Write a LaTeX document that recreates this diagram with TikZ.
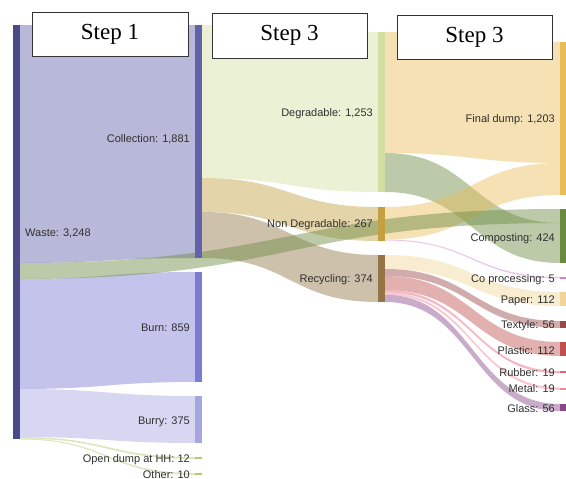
\documentclass[tikz,border=0pt]{standalone}
\usepackage{fontspec}
\setmainfont{Liberation Sans}
\newfontfamily\serifhead{Liberation Serif}
\usetikzlibrary{calc}
\definecolor{cWaste}{HTML}{4A4A88}
\definecolor{cColl}{HTML}{6262AA}
\definecolor{cBurn}{HTML}{7B7BD4}
\definecolor{cBurry}{HTML}{A6A6E2}
\definecolor{cOpen}{HTML}{B0CC70}
\definecolor{cDeg}{HTML}{D2E0A2}
\definecolor{cNon}{HTML}{C4A040}
\definecolor{cRec}{HTML}{927646}
\definecolor{cFinal}{HTML}{E8BC58}
\definecolor{cComp}{HTML}{6A8A40}
\definecolor{cCopro}{HTML}{D880C8}
\definecolor{cPaper}{HTML}{F0D498}
\definecolor{cText}{HTML}{9A4848}
\definecolor{cPlast}{HTML}{C05050}
\definecolor{cRubb}{HTML}{E86078}
\definecolor{cMetal}{HTML}{F08898}
\definecolor{cGlass}{HTML}{884888}
\definecolor{cLbl}{HTML}{303030}
\definecolor{cBox}{HTML}{333333}
% #1 source node, #2/#3 top/bottom offset at source, #4 target node, #5/#6 offsets at target, #7 colour
\newcommand\flow[7]{%
  \path[fill=#7, fill opacity=.45]
    let \p1=(#1.north east), \p2=(#4.north west), \p3=($(\p1)!.5!(\p2)$) in
    (\x1,{\y1-#2pt}) .. controls (\x3,{\y1-#2pt}) and (\x3,{\y2-#5pt}) .. (\x2,{\y2-#5pt})
    -- (\x2,{\y2-#6pt}) .. controls (\x3,{\y2-#6pt}) and (\x3,{\y1-#3pt}) .. (\x1,{\y1-#3pt}) -- cycle;}
\begin{document}
\begin{tikzpicture}[x=1pt,y=-1pt,
  bar/.style={draw=none, inner sep=0pt, outer sep=0pt, minimum width=7pt, anchor=north west},
  lbl/.style={inner sep=0pt, text=cLbl, font=\fontsize{11}{13}\selectfont},
  stepbox/.style={draw=cBox, line width=0.8pt, fill=white, minimum width=155pt, minimum height=44pt, inner sep=0pt, font=\serifhead\fontsize{23}{23}\selectfont}]
\useasboundingbox (0,0) rectangle (566,479);
% bars (as nodes; drawn again on top later)
\path
  node[bar, minimum height=414pt] (waste) at (13,25) {}
  node[bar, minimum height=233pt] (coll) at (195,25) {}
  node[bar, minimum height=110pt] (burn) at (195,272) {}
  node[bar, minimum height=47pt] (burry) at (195,396) {}
  node[bar, minimum height=2pt] (open) at (195,457) {}
  node[bar, minimum height=2pt] (other) at (195,473) {}
  node[bar, minimum height=160pt] (deg) at (378,32) {}
  node[bar, minimum height=34pt] (non) at (378,207) {}
  node[bar, minimum height=47pt] (rec) at (378,255) {}
  node[bar, minimum height=153pt] (final) at (560,42) {}
  node[bar, minimum height=54pt] (comp) at (560,209) {}
  node[bar, minimum height=1.5pt] (copro) at (560,277) {}
  node[bar, minimum height=14pt] (paper) at (560,292) {}
  node[bar, minimum height=7pt] (textyle) at (560,321) {}
  node[bar, minimum height=14pt] (plastic) at (560,342) {}
  node[bar, minimum height=2.4pt] (rubber) at (560,371) {}
  node[bar, minimum height=2.4pt] (metal) at (560,387.5) {}
  node[bar, minimum height=7.2pt] (glass) at (560,404) {};
% flows
\flow{waste}{0}{238}{coll}{0}{233}{cColl}
\flow{waste}{254}{364}{burn}{0}{110}{cBurn}
\flow{waste}{364}{412}{burry}{0}{47}{cBurry}
\flow{waste}{412}{413.5}{open}{0}{2}{cOpen}
\flow{waste}{413.5}{414.5}{other}{0}{2}{cOpen}
\flow{coll}{0}{153}{deg}{0}{160}{cDeg}
\flow{coll}{153}{187}{non}{0}{34}{cNon}
\flow{coll}{187}{233}{rec}{0}{47}{cRec}
\flow{deg}{0}{121}{final}{0}{121}{cFinal}
\flow{deg}{121}{160}{comp}{14}{54}{cComp}
\flow{non}{0}{32.5}{final}{121}{153}{cFinal}
\flow{non}{32.5}{33.5}{copro}{0}{1.5}{cCopro}
\flow{rec}{0}{14}{paper}{0}{14}{cPaper}
\flow{rec}{14}{21}{textyle}{0}{7}{cText}
\flow{rec}{21}{35}{plastic}{0}{14}{cPlast}
\flow{rec}{35}{37.4}{rubber}{0}{2.4}{cRubb}
\flow{rec}{37.4}{39.8}{metal}{0}{2.4}{cMetal}
\flow{rec}{39.8}{47}{glass}{0}{7.2}{cGlass}
\flow{waste}{238}{254}{comp}{0}{14}{cComp}
% bar fills on top
\foreach \n/\c in {waste/cWaste, coll/cColl, burn/cBurn, burry/cBurry, open/cOpen, other/cOpen,
  deg/cDeg, non/cNon, rec/cRec, final/cFinal, comp/cComp, copro/cCopro, paper/cPaper,
  textyle/cText, plastic/cPlast, rubber/cRubb, metal/cMetal, glass/cGlass}
  \fill[\c] (\n.north west) rectangle (\n.south east);
% labels
\node[lbl, anchor=base west] (lwaste) at (25,236) {Waste: 3,248};
\node[lbl, anchor=base east] (lcoll) at (190,142) {Collection: 1,881};
\node[lbl, anchor=base east] (lburn) at (190,331) {Burn: 859};
\node[lbl, anchor=base east] (lburry) at (190,424) {Burry: 375};
\node[lbl, anchor=base east] (lopen) at (190,462) {Open dump at HH: 12};
\node[lbl, anchor=base east] (lother) at (190,478) {Other: 10};
\node[lbl, anchor=base east] (ldeg) at (373,116) {Degradable: 1,253};
\node[lbl, anchor=base east] (lnon) at (373,227) {Non Degradable: 267};
\node[lbl, anchor=base east] (lrec) at (373,282) {Recycling: 374};
\node[lbl, anchor=base east] (lfinal) at (555,122) {Final dump: 1,203};
\node[lbl, anchor=base east] (lcomp) at (555,241) {Composting: 424};
\node[lbl, anchor=base east] (lcopro) at (555,282) {Co processing: 5};
\node[lbl, anchor=base east] (lpaper) at (555,303.5) {Paper: 112};
\node[lbl, anchor=base east] (ltext) at (555,328) {Textyle: 56};
\node[lbl, anchor=base east] (lplast) at (555,354) {Plastic: 112};
\node[lbl, anchor=base east] (lrubb) at (555,376) {Rubber: 19};
\node[lbl, anchor=base east] (lmetal) at (555,392.5) {Metal: 19};
\node[lbl, anchor=base east] (lglass) at (555,412) {Glass: 56};
% step headers
\node[stepbox, minimum width=156pt] (h1) at (110,34) {Step 1};
\node[stepbox, minimum height=45pt] (h2) at (289.5,35.5) {Step 3};
\node[stepbox] (h3) at (474.5,37) {Step 3};
\end{tikzpicture}
\end{document}
